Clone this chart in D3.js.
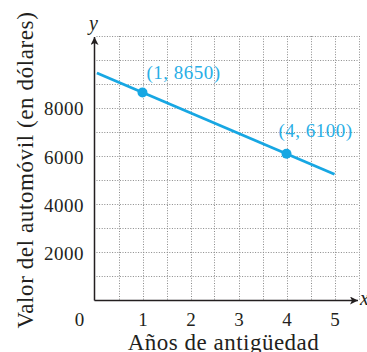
<!DOCTYPE html>
<html><head><meta charset="utf-8">
<script src="https://cdn.jsdelivr.net/npm/d3@7"></script>
<style>
body{margin:0;background:#fff;}
svg{display:block;}
text{font-family:"Liberation Serif","Times New Roman",serif;}
</style></head>
<body>
<script>
const xTicks = [1, 2, 3, 4, 5];
const yTicks = [2000, 4000, 6000, 8000];
const xGrid = [0.5, 1, 1.5, 2, 2.5, 3, 3.5, 4, 4.5, 5, 5.5];
const yGrid = [1000, 2000, 3000, 4000, 5000, 6000, 7000, 8000, 9000, 10000, 11000];
const lineX = [0.05, 5];
const lineY = [9460, 5250];
const pointsX = [1, 4];
const pointsY = [8650, 6100];
const pointLabels = ["(1, 8650)", "(4, 6100)"];
const xTitle = "Años de antigüedad";
const yTitle = "Valor del automóvil (en dólares)";

const W = 367, H = 352;
const FF = "'Liberation Serif','Times New Roman',serif";
const svg = d3.select("body").append("svg").attr("width", W).attr("height", H);
const x = d3.scaleLinear().domain([0, 5.5]).range([94.5, 358.5]);
const y = d3.scaleLinear().domain([0, 11000]).range([300.5, 36]);
const blue = "#17a7e3";
const ink = "#231f20";

// grid
const grid = svg.append("g").attr("stroke", "#8a8a8a").attr("stroke-width", 1).attr("stroke-dasharray", "1,1.6");
grid.selectAll("line.v").data(xGrid).join("line").attr("class", "v")
  .attr("x1", d => Math.round(x(d)) + 0.5).attr("x2", d => Math.round(x(d)) + 0.5)
  .attr("y1", y(11000)).attr("y2", y(0));
grid.selectAll("line.h").data(yGrid).join("line").attr("class", "h")
  .attr("y1", d => Math.round(y(d)) + 0.5).attr("y2", d => Math.round(y(d)) + 0.5)
  .attr("x1", x(0) + 2).attr("x2", x(5.5));

// arrow marker
const defs = svg.append("defs");
defs.append("marker").attr("id", "arr").attr("viewBox", "0 0 10 10").attr("refX", 10).attr("refY", 5)
  .attr("markerWidth", 12).attr("markerHeight", 8).attr("markerUnits", "userSpaceOnUse").attr("orient", "auto")
  .append("path").attr("d", "M0,0 L10,5 L0,10 L2.5,5 Z").attr("fill", ink);

// axes lines
svg.append("line").attr("x1", x(0)).attr("x2", x(0)).attr("y1", y(0)).attr("y2", 37)
  .attr("stroke", ink).attr("stroke-width", 1.5).attr("marker-end", "url(#arr)");
svg.append("line").attr("x1", x(0)).attr("x2", 358).attr("y1", y(0)).attr("y2", y(0))
  .attr("stroke", ink).attr("stroke-width", 1.5).attr("marker-end", "url(#arr)");

// tick labels via d3 axes
const xa = svg.append("g").attr("transform", `translate(0,${y(0)})`)
  .call(d3.axisBottom(x).tickValues(xTicks).tickSize(0).tickPadding(12).tickFormat(d3.format("d")));
xa.select(".domain").remove();
xa.selectAll("text").style("font-size", "19px").style("font-family", FF).attr("fill", ink);

const ya = svg.append("g").attr("transform", `translate(${x(0)},0)`)
  .call(d3.axisLeft(y).tickValues(yTicks).tickSize(0).tickPadding(11).tickFormat(d3.format("d")));
ya.select(".domain").remove();
ya.selectAll("text").style("font-size", "19px").style("font-family", FF).style("letter-spacing", "0.5px")
  .attr("fill", ink).attr("dx", 0.5).attr("dy", "0.36em");

svg.append("text").attr("x", 79.5).attr("y", y(0) + 12).attr("dy", "0.71em").attr("text-anchor", "middle")
  .style("font-size", "19px").style("font-family", FF).attr("fill", ink).text("0");

// axis letters
svg.append("text").attr("x", x(0) - 1).attr("y", 30).attr("text-anchor", "middle")
  .style("font-size", "20px").style("font-style", "italic").style("font-family", FF).attr("fill", ink).text("y");
svg.append("text").attr("x", 360).attr("y", y(0) + 4).attr("text-anchor", "start")
  .style("font-size", "20px").style("font-style", "italic").style("font-family", FF).attr("fill", ink).text("x");

// titles
svg.append("text").attr("x", 223.5).attr("y", 350).attr("text-anchor", "middle")
  .style("font-size", "23px").style("letter-spacing", "0.5px").style("font-family", FF).attr("fill", ink).text(xTitle);
svg.append("text").attr("transform", "translate(33,170) rotate(-90)").attr("text-anchor", "middle")
  .style("font-size", "23px").style("letter-spacing", "0.6px").style("font-family", FF).attr("fill", ink).text(yTitle);

// line
const lineData = lineX.map((d, i) => [d, lineY[i]]);
svg.append("path").datum(lineData)
  .attr("d", d3.line().x(d => x(d[0])).y(d => y(d[1])))
  .attr("fill", "none").attr("stroke", blue).attr("stroke-width", 2.8);

// points
const pts = pointsX.map((d, i) => ({ x: d, y: pointsY[i], label: pointLabels[i] }));
svg.selectAll("circle.pt").data(pts).join("circle").attr("class", "pt")
  .attr("cx", d => x(d.x)).attr("cy", d => y(d.y)).attr("r", 5).attr("fill", blue);

const labelDx = [4, -8];
const labelDy = [-14, -17];
svg.selectAll("text.pl").data(pts).join("text").attr("class", "pl")
  .attr("x", (d, i) => x(d.x) + labelDx[i]).attr("y", (d, i) => y(d.y) + labelDy[i])
  .style("font-size", "19px").style("letter-spacing", "0.5px").style("font-family", FF)
  .attr("fill", "#29aee6").text(d => d.label);
</script>
</body></html>
